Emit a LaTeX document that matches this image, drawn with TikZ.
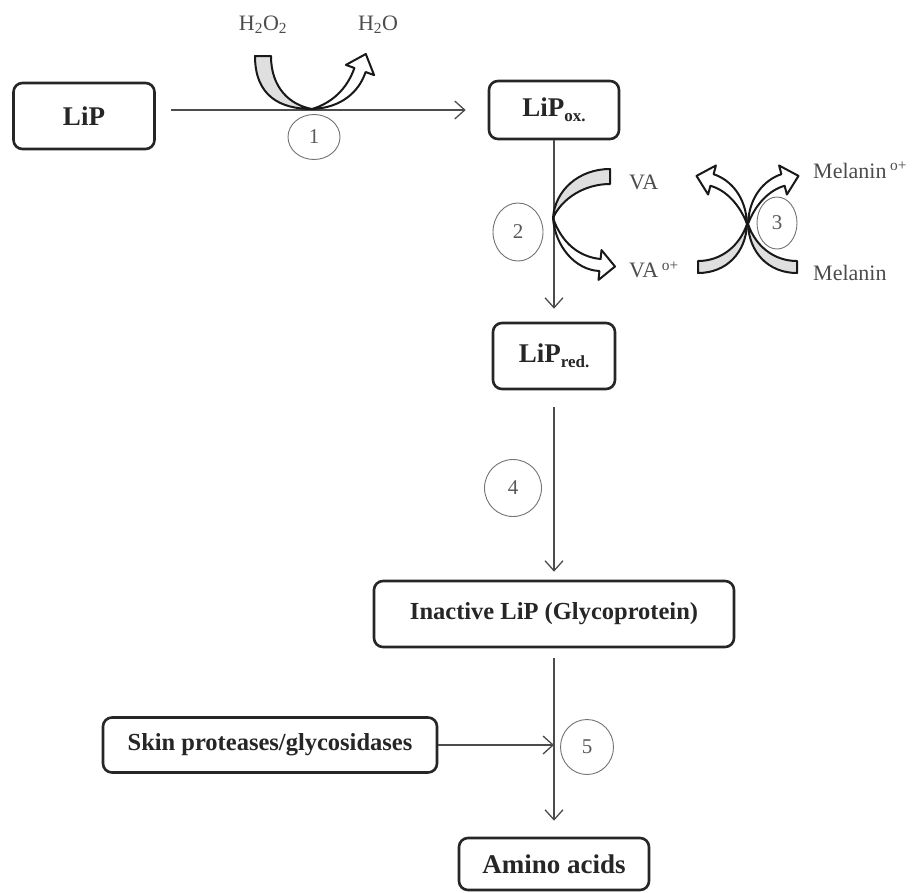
\documentclass[tikz,border=0pt]{standalone}
\usepackage{fontspec}
\setmainfont{Liberation Serif}
\usetikzlibrary{arrows.meta,shapes.geometric,calc}
\newcommand\subtx[1]{\raisebox{-5pt}{\fontsize{17}{17}\selectfont #1}}
\newcommand\xarcshape{%
  \filldraw[band, fill=gray!25] (698,273) .. controls (727,273) and (746,252) .. (747,224) .. controls (740,245) and (722,261) .. (698,261) -- cycle;
  \filldraw[band, fill=white] (747,224) .. controls (746,197) and (731,180) .. (713.6,174.2) -- (715.9,165.5) -- (696.5,175.9) -- (708.1,194.5) -- (710.4,185.8) .. controls (726,190) and (740,205) .. (747,224) -- cycle;
}
\begin{document}
\begin{tikzpicture}[x=1pt,y=-1pt,
  box/.style={draw=black!85, line width=2.6pt, rounded corners=9pt, fill=white, align=center, inner sep=0pt, font=\bfseries\fontsize{27}{30}\selectfont, text=black!85},
  bigbox/.style={box, font=\bfseries\fontsize{24.5}{28}\selectfont},
  conn/.style={draw=black!70, line width=1.3pt, -{Straight Barb[length=10pt,width=18pt,line width=1.3pt]}},
  num/.style={ellipse, draw=black!55, line width=0.9pt, inner sep=0pt, font=\fontsize{21}{21}\selectfont, text=black!65},
  lbl/.style={inner sep=0pt, font=\fontsize{22}{24}\selectfont, text=black!70},
  band/.style={draw=black!90, line width=2pt, line join=round},
]
\useasboundingbox[fill=white] (0,0) rectangle (920,892);

% boxes
\node[box, minimum width=141pt, minimum height=66pt] (lip) at (84,116) {LiP};
\node[box, minimum width=130pt, minimum height=58pt] (lipox) at (554,110) {LiP\subtx{ox.}};
\node[box, minimum width=122pt, minimum height=66pt] (lipred) at (554,356) {LiP\subtx{red.}};
\node[bigbox, minimum width=360pt, minimum height=66pt] (inact) at (554,614) {Inactive LiP (Glycoprotein)};
\node[bigbox, minimum width=334pt, minimum height=55pt] (skin) at (270,745) {Skin proteases/glycosidases};
\node[box, minimum width=190pt, minimum height=52pt] (amino) at (554,864) {Amino acids};
\coordinate (j5) at (554,745);

% connectors
\draw[conn, shorten <=15pt, shorten >=22pt] (lip.east |- lipox.west) -- (lipox.west);
\draw[conn, shorten >=13pt] (lipox.south) -- (lipred.north);
\draw[conn, shorten <=17pt, shorten >=8pt] (lipred.south) -- (inact.north);
\draw[conn, shorten <=10pt, shorten >=16pt] (inact.south) -- (amino.north);
\draw[conn] (skin.east) -- (j5);

% step numbers
\node[num, minimum width=52pt, minimum height=45pt] (n1) at (314,137) {1};
\node[num, minimum width=50pt, minimum height=58pt] (n2) at (518,232) {2};
\node[num, minimum width=40pt, minimum height=52pt] (n3) at (777,223) {3};
\node[num, minimum width=57pt, minimum height=57pt] (n4) at (513,488) {4};
\node[num, minimum width=53pt, minimum height=55pt] (n5) at (587,747) {5};

% labels
\node[lbl] (h2o2) at (263,25) {H\textsubscript{2}O\textsubscript{2}};
\node[lbl] (h2o) at (378,25) {H\textsubscript{2}O};
\node[lbl, anchor=west] (va) at (629,182) {VA};
\node[lbl, anchor=west] (vao) at (629,270) {VA\,\textsuperscript{o+}};
\node[lbl, anchor=west] (mel) at (813,273) {Melanin};
\node[lbl, anchor=west] (melo) at (813,170) {Melanin\,\textsuperscript{o+}};

% block arrow 1
\filldraw[band, fill=gray!25] (255,56) .. controls (255,96) and (280,109) .. (312,109) .. controls (290,105) and (271,88) .. (271,56) -- cycle;
\filldraw[band, fill=white] (312,109) .. controls (341,108) and (359,92) .. (365.6,72) -- (374.1,75.1) -- (365.8,54) -- (345.9,64.9) -- (354.4,68) .. controls (347,89) and (332,103) .. (312,109) -- cycle;

% block arrow 2
\filldraw[band, fill=gray!25] (610,169) .. controls (579,169) and (555,190) .. (553,218) .. controls (562,198) and (585,184) .. (610,184) -- cycle;
\filldraw[band, fill=white] (553,218) .. controls (555,246) and (575,270) .. (599.4,271) -- (598.5,279.9) -- (615,266.5) -- (601.5,250.1) -- (600.6,259) .. controls (580,257) and (562,244) .. (553,218) -- cycle;

% block arrows 3 (crossing)
\xarcshape
\begin{scope}[xshift=1495pt, xscale=-1]
\xarcshape
\end{scope}
\end{tikzpicture}
\end{document}
